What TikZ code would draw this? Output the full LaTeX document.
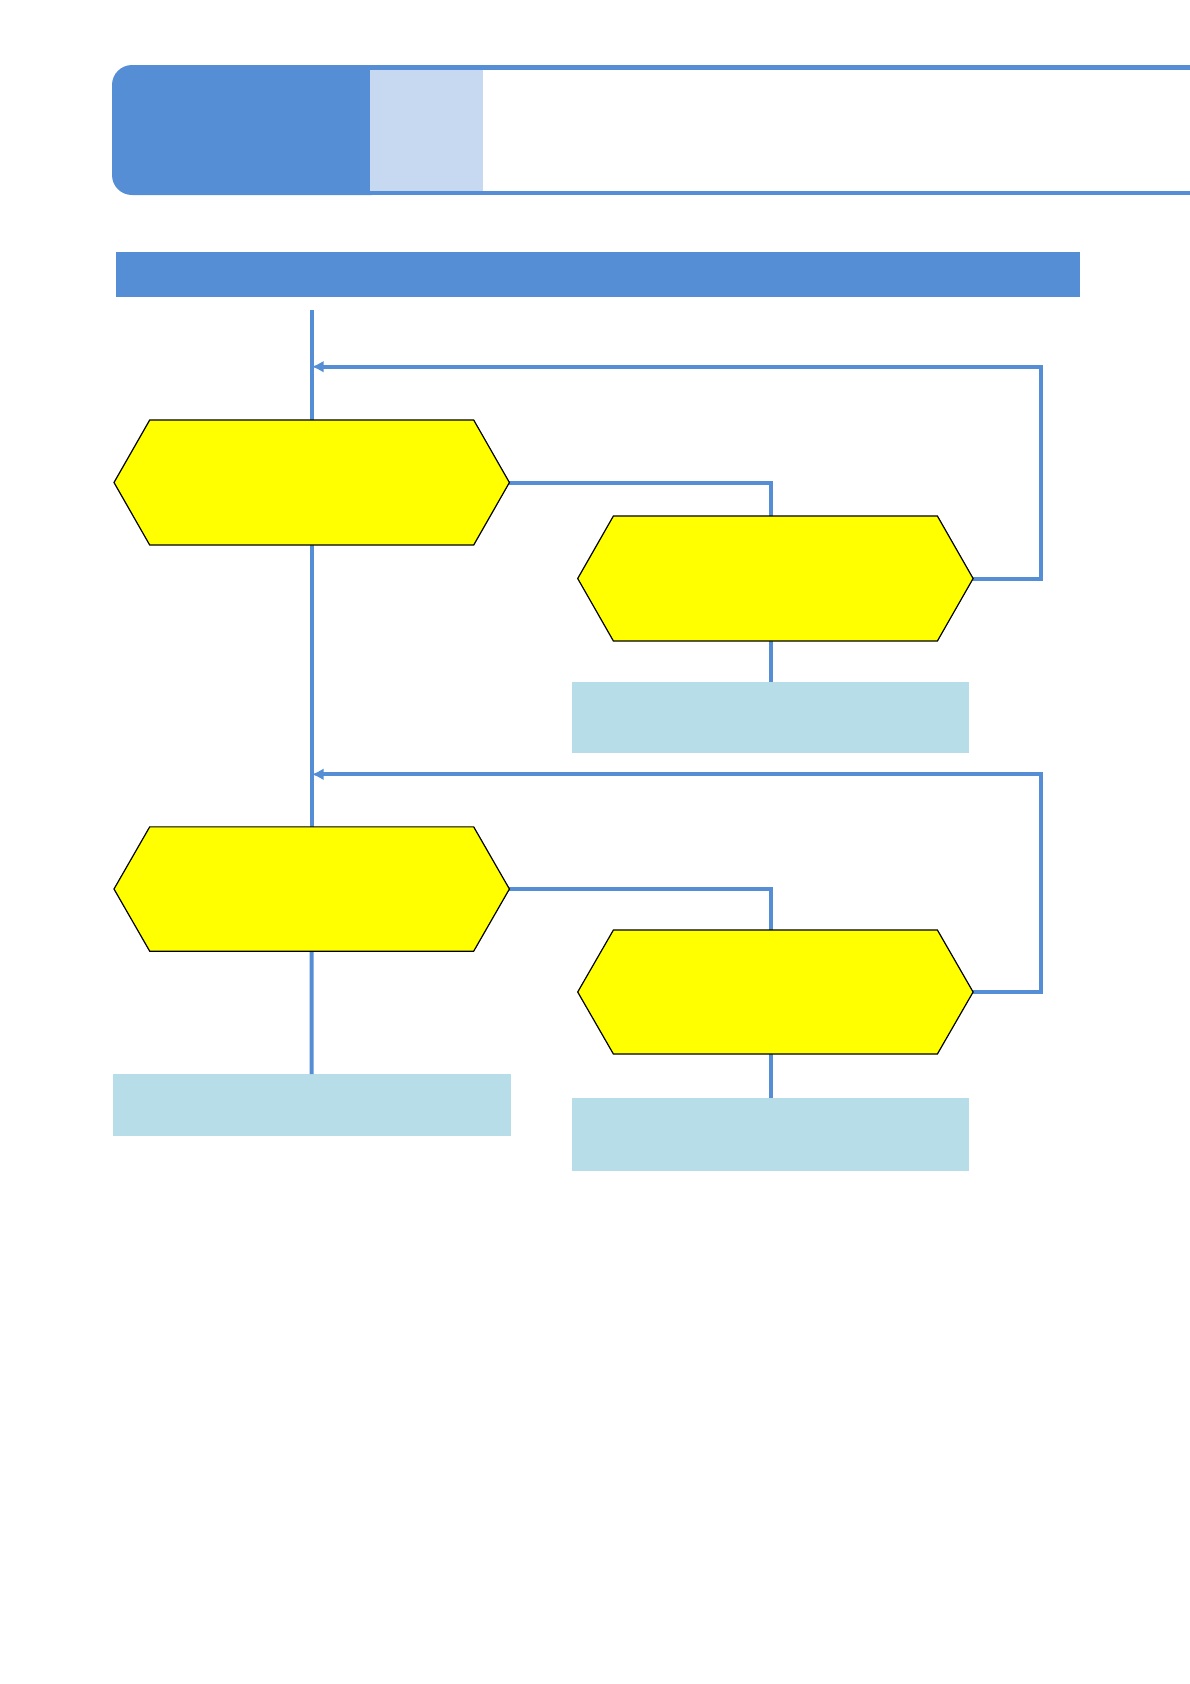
\documentclass[tikz,border=0pt]{standalone}
\usetikzlibrary{arrows.meta,calc}
\definecolor{hdblue}{HTML}{558ED5}
\definecolor{hlblue}{HTML}{C6D9F1}
\definecolor{boxcyan}{HTML}{B7DEE8}
\definecolor{hexyellow}{HTML}{FFFF00}
\newcommand\pxu{0.5bp}
\newcommand\hexpath[1]{(#1.west) -- ($(#1.north west)+(35.7,0)$) -- ($(#1.north east)+(-35.7,0)$) -- (#1.east) -- ($(#1.south east)+(-35.7,0)$) -- ($(#1.south west)+(35.7,0)$) -- cycle}
\tikzset{
  box/.style={inner sep=0pt, outer sep=0pt, draw=none},
  hexnode/.style={box, minimum width=395.4*\pxu, minimum height=125*\pxu},
  hexfill/.style={fill=hexyellow, draw=black, line width=0.6bp, line join=miter},
  conn/.style={draw=hdblue, line width=2bp},
  connarrow/.style={conn, -{Latex[length=6bp,width=6bp]}},
  cyanbox/.style={box, fill=boxcyan, minimum width=397*\pxu},
}
\begin{document}
\begin{tikzpicture}[x=0.5bp,y=-0.5bp]
\useasboundingbox (0,0) rectangle (1190,1684);
% header
\node[box, fill=hdblue, rounded corners=10bp, minimum width=280*\pxu, minimum height=130*\pxu, anchor=north west] (tabdark) at (112,65) {};
\node[box, fill=hlblue, minimum width=113*\pxu, minimum height=121*\pxu, anchor=north west] (tablight) at (370,70) {};
\coordinate (htl) at (370,67.5);
\coordinate (htr) at (1195,67.5);
\coordinate (hbl) at (370,193);
\coordinate (hbr) at (1195,193);
\draw[draw=hdblue, line width=2.3bp] (htl) -- (htr);
\draw[draw=hdblue, line width=2.3bp] (hbl) -- (hbr);
% band
\node[box, fill=hdblue, minimum width=964*\pxu, minimum height=44.5*\pxu, anchor=north west] (band) at (116,252) {};
% hexagon nodes
\node[hexnode] (h1) at (311.7,482.5) {};
\node[hexnode] (h2) at (775.4,578.5) {};
\node[hexnode, minimum height=124.3*\pxu] (h3) at (311.7,889) {};
\node[hexnode, minimum height=124*\pxu] (h4) at (775.4,992) {};
% cyan boxes
\node[cyanbox, minimum height=71*\pxu, anchor=north west] (r1) at (572,682) {};
\node[box, fill=boxcyan, minimum width=397.8*\pxu, minimum height=61.7*\pxu, anchor=north west] (r2) at (112.8,1074) {};
\node[cyanbox, minimum height=72.7*\pxu, anchor=north west] (r3) at (572,1098) {};
% coordinates
\coordinate (start) at (311.7,310);
\coordinate (j1) at (311.7,366.7);
\coordinate (c1) at (1040.7,366.7);
\coordinate (j2) at (311.7,774.3);
\coordinate (c2) at (1040.7,774.3);
% connectors
\draw[conn] (start) -- (h1.north);
\draw[conn] (h1.south) -- (h3.north);
\draw[conn] (h3.south) -- (r2.north);
\draw[conn] (h1.east) -| (h2.north -| r1.north);
\draw[conn] (h2.south -| r1.north) -- (r1.north);
\draw[conn] (h3.east) -| (h4.north -| r3.north);
\draw[conn] (h4.south -| r3.north) -- (r3.north);
\draw[connarrow] (h2.east) -- (h2.east -| c1) -- (c1) -- (j1);
\draw[connarrow] (h4.east) -- (h4.east -| c2) -- (c2) -- (j2);
% hexagons
\path[hexfill] \hexpath{h1};
\path[hexfill] \hexpath{h2};
\path[hexfill] \hexpath{h3};
\path[hexfill] \hexpath{h4};
\end{tikzpicture}
\end{document}
